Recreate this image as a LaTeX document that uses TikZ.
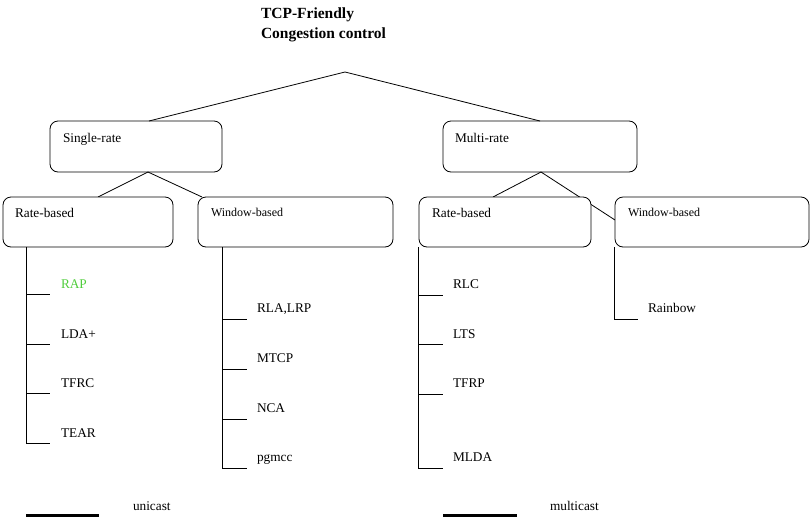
\documentclass[tikz,border=0pt]{standalone}
\usepackage{fontspec}
\setmainfont{Liberation Serif}
\definecolor{rapgreen}{RGB}{80,205,60}
\begin{document}
\begin{tikzpicture}[x=1pt,y=-1pt,
  every node/.style={inner sep=0pt,outer sep=0pt},
  catbox/.style={draw,line width=0.8pt,rounded corners=8pt,fill=white},
  lbl/.style={anchor=base west,font=\fontsize{13.3}{16}\selectfont},
  wlbl/.style={anchor=base west,font=\fontsize{12}{14}\selectfont},
  ttl/.style={anchor=base west,font=\fontsize{15.5}{19}\selectfont\bfseries},
  conn/.style={line width=0.8pt},
  legline/.style={line width=3pt}]
\useasboundingbox (0,0) rectangle (810,517);

% title
\node[ttl] (t1) at (261,18.5) {TCP-Friendly};
\node[ttl] (t2) at (261,38.5) {Congestion control};
\coordinate (apex) at (345,72);

% level 1
\node[catbox,minimum width=172pt,minimum height=51pt] (sr) at (136,146.5) {};
\node[catbox,minimum width=194pt,minimum height=51pt] (mr) at (540,146.5) {};
\node[lbl] (srt) at (63,142.7) {Single-rate};
\node[lbl] (mrt) at (455,142.7) {Multi-rate};
\coordinate (srtop) at (149,121);
\draw[conn] (apex) -- (srtop);
\draw[conn] (apex) -- (mr.north);

% connectors level 1 -> 2 (drawn under boxes)
\coordinate (srbot) at (148,172);
\coordinate (mrbot) at (541,172);
\coordinate (srrtop) at (98,197);
\coordinate (srwtop) at (202,197);
\coordinate (mrrtop) at (493,197);
\coordinate (mrwleft) at (615,220);
\draw[conn] (srbot) -- (srrtop);
\draw[conn] (srbot) -- (srwtop);
\draw[conn] (mrbot) -- (mrrtop);
\draw[conn] (mrbot) -- (mrwleft);

% level 2 boxes
\node[catbox,minimum width=170pt,minimum height=50pt] (srr) at (88,222) {};
\node[catbox,minimum width=195pt,minimum height=50pt] (srw) at (295.5,222) {};
\node[catbox,minimum width=172pt,minimum height=50pt] (mrr) at (505,222) {};
\node[catbox,minimum width=194pt,minimum height=50pt] (mrw) at (712,222) {};
\node[lbl] (srrt) at (15,217) {Rate-based};
\node[wlbl] (srwt) at (211,216.5) {Window-based};
\node[lbl] (mrrt) at (432,217) {Rate-based};
\node[wlbl] (mrwt) at (628,216.5) {Window-based};

% single-rate, rate-based list
\coordinate (a0) at (26,247);
\coordinate (a1) at (26,294); \coordinate (a1e) at (50,294);
\coordinate (a2) at (26,344); \coordinate (a2e) at (50,344);
\coordinate (a3) at (26,393); \coordinate (a3e) at (50,393);
\coordinate (a4) at (26,443); \coordinate (a4e) at (50,443);
\draw[conn] (a0) -- (a4);
\draw[conn] (a1) -- (a1e);
\draw[conn] (a2) -- (a2e);
\draw[conn] (a3) -- (a3e);
\draw[conn] (a4) -- (a4e);
\node[lbl,text=rapgreen] (rap) at (61,288) {RAP};
\node[lbl] (lda) at (61,338) {LDA+};
\node[lbl] (tfrc) at (61,387) {TFRC};
\node[lbl] (tear) at (61,437) {TEAR};

% single-rate, window-based list
\coordinate (b0) at (222,247);
\coordinate (b1) at (222,319); \coordinate (b1e) at (247,319);
\coordinate (b2) at (222,369); \coordinate (b2e) at (247,369);
\coordinate (b3) at (222,419); \coordinate (b3e) at (247,419);
\coordinate (b4) at (222,468); \coordinate (b4e) at (247,468);
\draw[conn] (b0) -- (b4);
\draw[conn] (b1) -- (b1e);
\draw[conn] (b2) -- (b2e);
\draw[conn] (b3) -- (b3e);
\draw[conn] (b4) -- (b4e);
\node[lbl] (rla) at (257,312.5) {RLA,LRP};
\node[lbl] (mtcp) at (257,362.5) {MTCP};
\node[lbl] (nca) at (257,412.5) {NCA};
\node[lbl] (pgm) at (257,461.5) {pgmcc};

% multi-rate, rate-based list
\coordinate (c0) at (418,247);
\coordinate (c1) at (418,295); \coordinate (c1e) at (443,295);
\coordinate (c2) at (418,344); \coordinate (c2e) at (443,344);
\coordinate (c3) at (418,394); \coordinate (c3e) at (443,394);
\coordinate (c4) at (418,468); \coordinate (c4e) at (443,468);
\draw[conn] (c0) -- (c4);
\draw[conn] (c1) -- (c1e);
\draw[conn] (c2) -- (c2e);
\draw[conn] (c3) -- (c3e);
\draw[conn] (c4) -- (c4e);
\node[lbl] (rlc) at (453,288.5) {RLC};
\node[lbl] (lts) at (453,338) {LTS};
\node[lbl] (tfrp) at (453,387.5) {TFRP};
\node[lbl] (mlda) at (453,461.5) {MLDA};

% multi-rate, window-based list
\coordinate (d0) at (614,247);
\coordinate (d1) at (614,319); \coordinate (d1e) at (638,319);
\draw[conn] (d0) -- (d1) -- (d1e);
\node[lbl] (rain) at (648,312.5) {Rainbow};

% legend
\coordinate (u1) at (26,515.5); \coordinate (u2) at (99,515.5);
\draw[legline] (u1) -- (u2);
\node[lbl] (uni) at (133,510) {unicast};
\coordinate (m1) at (443,515.5); \coordinate (m2) at (517,515.5);
\draw[legline] (m1) -- (m2);
\node[lbl] (multi) at (550,510) {multicast};
\end{tikzpicture}
\end{document}
